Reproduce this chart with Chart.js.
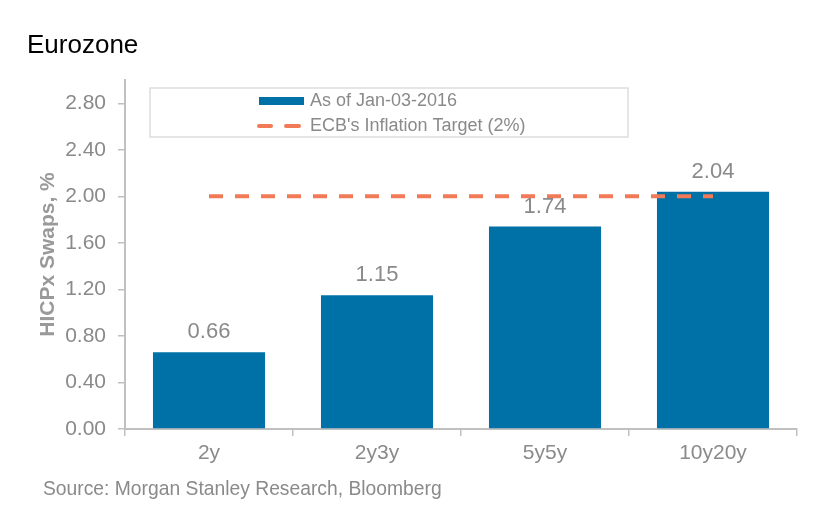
<!DOCTYPE html>
<html>
<head>
<meta charset="utf-8">
<script src="https://cdn.jsdelivr.net/npm/chart.js@4.4.1/dist/chart.umd.min.js"></script>
<style>
  html, body { margin: 0; padding: 0; background: #ffffff; }
  #wrap { width: 821px; height: 521px; position: relative; }
</style>
</head>
<body>
<div id="wrap"><canvas id="c" width="821" height="521"></canvas></div>
<script>
const chartTitle = "Eurozone";
const sourceNote = "Source: Morgan Stanley Research, Bloomberg";
const yAxisTitle = "HICPx Swaps, %";
const categories = ["2y", "2y3y", "5y5y", "10y20y"];
const swapValues = [0.66, 1.15, 1.74, 2.04];
const targetValues = [2, 2, 2, 2];
const seriesLabels = ["As of Jan-03-2016", "ECB's Inflation Target (2%)"];
const yTickValues = [0, 0.4, 0.8, 1.2, 1.6, 2.0, 2.4, 2.8];

const FONT = "'Liberation Sans', Arial, Helvetica, sans-serif";
const GRAY = "#8a8a8a";
const AXIS = "#c0c0c0";
const BLUE = "#0071a7";
const ORANGE = "#f17a57";

const textPlugin = {
  id: 'texts',
  afterDraw(chart) {
    const ctx = chart.ctx;
    ctx.save();
    ctx.fillStyle = '#000000';
    ctx.font = "26px " + FONT;
    ctx.textAlign = 'left';
    ctx.textBaseline = 'alphabetic';
    ctx.fillText(chartTitle, 27, 53);
    ctx.fillStyle = GRAY;
    ctx.font = "19.3px " + FONT;
    ctx.textBaseline = 'middle';
    ctx.fillText(sourceNote, 43, 490);
    ctx.restore();
  }
};

const valueLabelPlugin = {
  id: 'valueLabels',
  afterDatasetsDraw(chart) {
    const ctx = chart.ctx;
    const meta = chart.getDatasetMeta(0);
    const ds = chart.data.datasets[0];
    ctx.save();
    ctx.fillStyle = GRAY;
    ctx.font = "22px " + FONT;
    ctx.textAlign = 'center';
    ctx.textBaseline = 'middle';
    meta.data.forEach((bar, i) => {
      ctx.fillText(ds.data[i].toFixed(2), bar.x, bar.y - 20);
    });
    ctx.restore();
  }
};

const legendPlugin = {
  id: 'boxLegend',
  afterDraw(chart) {
    const ctx = chart.ctx;
    const ds = chart.data.datasets;
    ctx.save();
    ctx.fillStyle = '#ffffff';
    ctx.fillRect(150, 88, 478, 49);
    ctx.strokeStyle = '#dddddd';
    ctx.lineWidth = 1.5;
    ctx.strokeRect(150, 88, 478, 49);
    ctx.fillStyle = ds[0].backgroundColor;
    ctx.fillRect(259, 97, 45, 8);
    ctx.strokeStyle = ds[1].borderColor;
    ctx.lineWidth = 4;
    ctx.lineCap = 'round';
    ctx.beginPath();
    ctx.moveTo(259, 126); ctx.lineTo(271, 126);
    ctx.moveTo(286, 126); ctx.lineTo(299, 126);
    ctx.stroke();
    ctx.fillStyle = GRAY;
    ctx.font = "18px " + FONT;
    ctx.textAlign = 'left';
    ctx.textBaseline = 'middle';
    ctx.fillText(ds[0].label, 310, 101);
    ctx.fillText(ds[1].label, 310, 126);
    ctx.restore();
  }
};

new Chart(document.getElementById('c'), {
  type: 'bar',
  data: {
    labels: categories,
    datasets: [
      {
        type: 'bar',
        label: seriesLabels[0],
        data: swapValues,
        backgroundColor: BLUE,
        barPercentage: 0.667,
        categoryPercentage: 1.0,
        order: 2
      },
      {
        type: 'line',
        label: seriesLabels[1],
        data: targetValues,
        borderColor: ORANGE,
        backgroundColor: ORANGE,
        borderWidth: 4,
        borderDash: [14, 12],
        borderCapStyle: 'butt',
        pointRadius: 0,
        fill: false,
        order: 1
      }
    ]
  },
  options: {
    responsive: false,
    animation: false,
    devicePixelRatio: 1,
    layout: { padding: { left: 30, right: 24, top: 80, bottom: 52 } },
    plugins: {
      legend: { display: false },
      title: { display: false },
      tooltip: { enabled: false }
    },
    scales: {
      x: {
        offset: true,
        grid: { display: true, drawOnChartArea: false, drawTicks: true, tickLength: 7, color: AXIS, lineWidth: 1.5, offset: true },
        border: { display: true, color: AXIS, width: 2 },
        ticks: { color: GRAY, font: { family: FONT, size: 21 }, padding: 5 },
        afterFit(s) { s.height = 40; }
      },
      y: {
        min: 0,
        max: 3.0,
        grid: { display: true, drawOnChartArea: false, drawTicks: true, tickLength: 7, color: AXIS, lineWidth: 1.5 },
        border: { display: true, color: AXIS, width: 2 },
        ticks: {
          color: GRAY,
          font: { family: FONT, size: 21 },
          padding: 12,
          callback: (v) => Number(v).toFixed(2)
        },
        afterBuildTicks(s) { s.ticks = yTickValues.map(v => ({ value: v })); },
        afterFit(s) { s.width = 95; },
        title: {
          display: true,
          text: yAxisTitle,
          color: "#999999",
          font: { family: FONT, size: 21, weight: 'bold' },
          padding: { top: 6, bottom: 0 }
        }
      }
    }
  },
  plugins: [valueLabelPlugin, legendPlugin, textPlugin]
});
</script>
</body>
</html>
